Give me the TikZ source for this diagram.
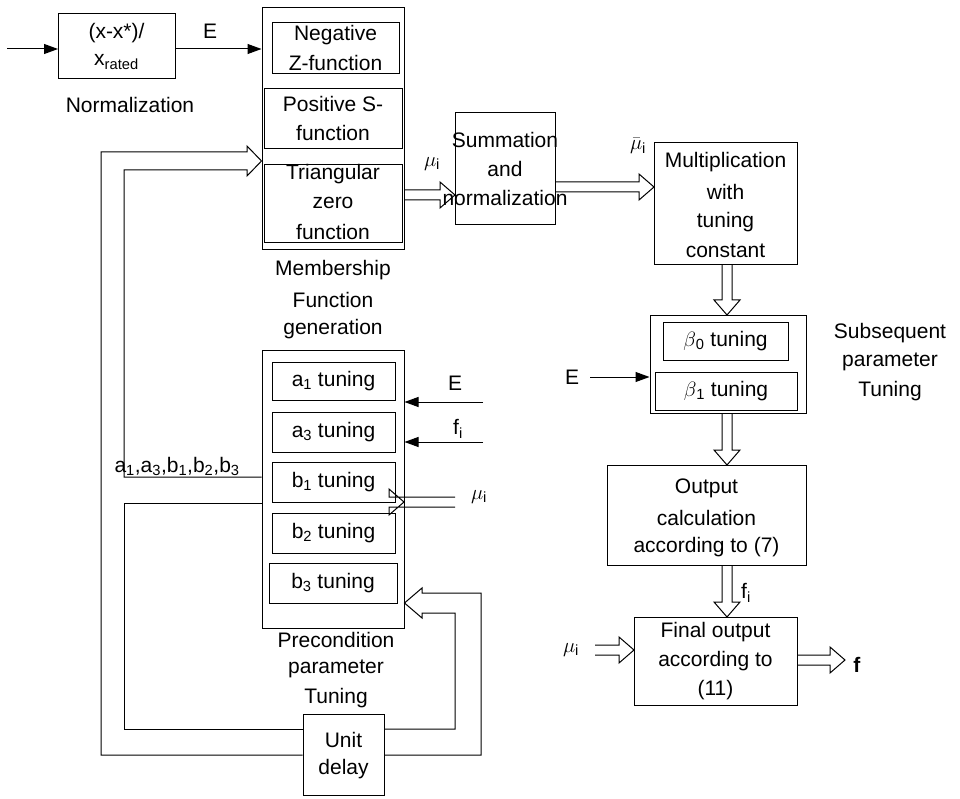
\documentclass[tikz,border=0pt]{standalone}
\usepackage{fontspec}
\setmainfont{Liberation Sans}
\usetikzlibrary{arrows.meta}
\begin{document}
\begin{tikzpicture}[x=1pt,y=-1pt,line width=1pt,
  box/.style={draw,inner sep=0pt},
  lbl/.style={align=center,inner sep=0pt,font=\fontsize{21}{29}\selectfont},
  arr/.style={-{Triangle[length=14pt,width=10pt]}}]
\useasboundingbox (0,0) rectangle (960,799);
\newcommand{\hx}[3]{\draw (#1,#3-5)--(#2-15,#3-5)--(#2-15,#3-13)--(#2,#3)--(#2-15,#3+13)--(#2-15,#3+5)--(#1,#3+5);}
\newcommand{\hv}[3]{\draw (#3-5,#1)--(#3-5,#2-15)--(#3-13,#2-15)--(#3,#2)--(#3+13,#2-15)--(#3+5,#2-15)--(#3+5,#1);}
% normalization
\node[box,minimum width=117pt,minimum height=65pt] (nrm) at (116.5,46.5) {};
\node[lbl] at (116.5,33) {(x-x*)/};
\node[lbl] at (116.5,62) {x\textsubscript{rated}};
\node[lbl] (nl) at (130,105) {Normalization};
\coordinate (in) at (7,49);
\draw[arr] (in) -- (58,49);
% MF
\node[box,minimum width=142pt,minimum height=242pt] (mf) at (333,129) {};
\node[box,minimum width=127pt,minimum height=51pt] (nz) at (335.5,48.5) {};
\node[lbl] at (335.5,35) {Negative}; \node[lbl] at (335.5,63) {Z-function};
\node[box,minimum width=138pt,minimum height=60pt] (ps) at (333,119) {};
\node[lbl] at (333,104) {Positive S-}; \node[lbl] at (333,133) {function};
\node[box,minimum width=138pt,minimum height=78pt] (tz) at (333,204) {};
\node[lbl] at (333,174) {Triangular}; \node[lbl] at (333,203) {zero}; \node[lbl] at (333,232) {function};
\node[lbl] at (333,270) {Membership}; \node[lbl] at (333,300) {Function}; \node[lbl] at (333,329) {generation};
\draw[arr] (nrm.east |- 0,49) -- (mf.west |- 0,49);
\node[lbl] at (210,31) {E};
% summation, multiplication
\node[box,minimum width=100pt,minimum height=112pt] (sum) at (505,169) {};
\node[lbl] at (505,140) {Summation}; \node[lbl] at (505,169) {and}; \node[lbl] at (505,198) {normalization};
\hx{404}{455}{195}
\node[lbl] at (432,164) {$\mu$\textsubscript{i}};
\node[box,minimum width=143pt,minimum height=122pt] (mul) at (725.5,204) {};
\node[lbl] at (725.5,162) {Multiplication}; \node[lbl] at (725.5,192) {with}; \node[lbl] at (725.5,222) {tuning}; \node[lbl] at (725.5,251) {constant};
\hx{555}{654}{187}
\node[lbl] at (638,146) {$\bar{\mu}$\textsubscript{i}};
% subsequent
\hv{265}{315}{727}
\node[box,minimum width=156pt,minimum height=98pt] (sub) at (728,364) {};
\node[box,minimum width=125pt,minimum height=38pt] (b0) at (725.5,341) {};
\node[lbl] at (725.5,341) {$\beta$\textsubscript{0} tuning};
\node[box,minimum width=142pt,minimum height=38pt] (b1) at (726,391) {};
\node[lbl] at (726,391) {$\beta$\textsubscript{1} tuning};
\coordinate (e2) at (590,377);
\draw[arr] (e2) -- (sub.west |- e2);
\node[lbl] at (572,377) {E};
\node[lbl] at (890,333) {Subsequent}; \node[lbl] at (890,362) {parameter}; \node[lbl] at (890,391) {Tuning};
\hv{413}{465}{727}
\node[box,minimum width=199pt,minimum height=100pt] (out) at (706.5,515) {};
\node[lbl] at (706.5,488) {Output}; \node[lbl] at (706.5,518) {calculation}; \node[lbl] at (706.5,547) {according to (7)};
\hv{565}{617}{727}
\node[lbl] at (746,593) {f\textsubscript{i}};
\node[box,minimum width=163pt,minimum height=88pt] (fin) at (715.5,661) {};
\node[lbl] at (715.5,632) {Final output}; \node[lbl] at (715.5,661) {according to}; \node[lbl] at (715.5,690) {(11)};
\hx{595}{634}{650}
\node[lbl] at (571,650) {$\mu$\textsubscript{i}};
\hx{797}{845}{660}
\node[lbl] at (857,665) {\textbf{f}};
% precondition
\node[box,minimum width=142pt,minimum height=278pt] (pre) at (333,489) {};
\node[box,minimum width=123pt,minimum height=38pt] (pa1) at (333.5,381) {}; \node[lbl] at (333.5,381) {a\textsubscript{1} tuning};
\node[box,minimum width=123pt,minimum height=40pt] (pa3) at (333.5,432) {}; \node[lbl] at (333.5,432) {a\textsubscript{3} tuning};
\node[box,minimum width=123pt,minimum height=40pt] (pb1) at (333.5,482) {}; \node[lbl] at (333.5,482) {b\textsubscript{1} tuning};
\node[box,minimum width=123pt,minimum height=40pt] (pb2) at (333.5,533) {}; \node[lbl] at (333.5,533) {b\textsubscript{2} tuning};
\node[box,minimum width=128pt,minimum height=40pt] (pb3) at (333,583) {}; \node[lbl] at (333,583) {b\textsubscript{3} tuning};
\node[lbl] at (336,640) {Precondition}; \node[lbl] at (336,669) {parameter}; \node[lbl] at (336,698) {Tuning};
\coordinate (ei) at (483,402); \coordinate (fi) at (483,442);
\draw[arr] (ei) -- (pre.east |- ei);
\draw[arr] (fi) -- (pre.east |- fi);
\node[lbl] at (455,383) {E};
\node[lbl] at (458,429) {f\textsubscript{i}};
\hx{455}{404}{502}
\node[lbl] at (479,497) {$\mu$\textsubscript{i}};
% unit delay
\node[box,minimum width=81pt,minimum height=81pt] (ud) at (343.5,754.5) {};
\node[lbl] at (343.5,740) {Unit}; \node[lbl] at (343.5,769) {delay};
% feedback loops
\draw (ud.west |- 0,755) -- (101,755) -- (101,152) -- (247,152) -- (247,146) -- (mf.west |- 0,161) -- (247,176) -- (247,170) -- (124,170) -- (124,477) -- (pre.west |- 0,477);
\node[lbl,anchor=south west] at (114,476) {a\textsubscript{1},a\textsubscript{3},b\textsubscript{1},b\textsubscript{2},b\textsubscript{3}};
\draw (pre.west |- 0,503) -- (124,503) -- (124,729) -- (ud.west |- 0,729);
\draw (ud.east |- 0,755) -- (481,755) -- (481,593) -- (422,593) -- (422,588) -- (pre.east |- 0,603) -- (422,618) -- (422,613) -- (455,613) -- (455,729) -- (ud.east |- 0,729);
\end{tikzpicture}
\end{document}
